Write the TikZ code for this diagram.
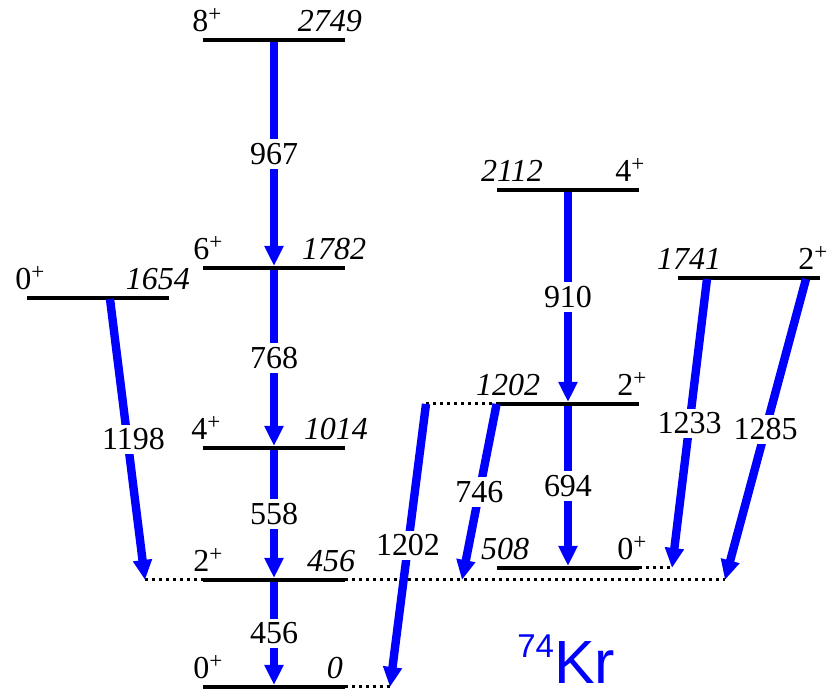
\documentclass[tikz,border=0pt]{standalone}
\usepackage{fontspec}
\setmainfont{Liberation Serif}
\newfontfamily\krfont{Liberation Sans}
\usetikzlibrary{arrows.meta, positioning}
\definecolor{krblue}{HTML}{0000FF}
\newcommand{\spinplus}{\raisebox{5pt}{\fontsize{11.5}{12}\selectfont +}}

\begin{document}
\begin{tikzpicture}[
    x=0.5pt, y=-0.5pt,
    font=\fontsize{16}{19}\selectfont,
    lvl/.style={rectangle, fill=black, inner sep=0pt, minimum height=1.6pt, minimum width=71pt},
    extline/.style={dotted, line width=1.5pt},
    spin/.style={anchor=base west, inner sep=0pt},
    energy/.style={anchor=base, inner sep=0pt, font=\fontsize{16}{19}\selectfont\itshape},
    gam/.style={-{Triangle[length=10pt, width=9pt]}, line width=4.2pt, krblue},
    elabel/.style={fill=white, text=black, inner sep=2pt, midway},
    kr/.style={anchor=base west, inner sep=0pt, text=krblue, font=\krfont\fontsize{30.5}{32}\selectfont}
]
\useasboundingbox (0,0) rectangle (827,689);

\node[lvl] (g0) at (274,687) {};
\node[lvl] (e456) at (274,580) {};
\node[lvl] (e1014) at (274,448) {};
\node[lvl] (e1782) at (274,268) {};
\node[lvl] (e2749) at (274,40) {};
\node[lvl] (e1654) at (98,298) {};
\node[lvl] (e2112) at (568,190) {};
\node[lvl] (e1202) at (568,404) {};
\node[lvl] (e508) at (568,568) {};
\node[lvl] (e1741) at (749,278) {};

\node[spin] (j0) at (193,679) {0\spinplus};
\node[energy] (n0) at (335,679) {0};
\node[spin] (j456) at (193,572) {2\spinplus};
\node[energy] (n456) at (331,572) {456};
\node[spin] (j1014) at (191,440) {4\spinplus};
\node[energy] (n1014) at (336,440) {1014};
\node[spin] (j1782) at (193,260) {6\spinplus};
\node[energy] (n1782) at (334,260) {1782};
\node[spin] (j2749) at (192,32) {8\spinplus};
\node[energy] (n2749) at (330,32) {2749};
\node[spin] (j1654) at (15,290) {0\spinplus};
\node[energy] (n1654) at (158,290) {1654};
\node[spin] (j2112) at (615,182) {4\spinplus};
\node[energy] (n2112) at (512,182) {2112};
\node[spin] (j1202) at (617,396) {2\spinplus};
\node[energy] (n1202) at (508,396) {1202};
\node[spin] (j508) at (617,560) {0\spinplus};
\node[energy] (n508) at (505,560) {508};
\node[spin] (j1741) at (798,270) {2\spinplus};
\node[energy] (n1741) at (689,270) {1741};

\coordinate (d456l) at (145,580);
\coordinate (d456r) at (725,580);
\coordinate (d0r) at (390,687);
\coordinate (d1202l) at (426,404);
\coordinate (d508r) at (672,568);
\coordinate (o1198) at (110,299);
\coordinate (o1233) at (707,279);
\coordinate (o1285) at (806,279);
\coordinate (t746) at (462,580);

\draw[extline] (d456l) -- (e456.west);
\draw[extline] (e456.east) -- (d456r);
\draw[extline] (g0.east) -- (d0r);
\draw[extline] (d1202l) -- (e1202.west);
\draw[extline] (e508.east) -- (d508r);

\draw[gam] (e2749) -- node[elabel] {967} (e1782);
\draw[gam] (e1782) -- node[elabel] {768} (e1014);
\draw[gam] (e1014) -- node[elabel] {558} (e456);
\draw[gam] (e456) -- node[elabel] {456} (g0);
\draw[gam] (e2112) -- node[elabel] {910} (e1202);
\draw[gam] (e1202) -- node[elabel] {694} (e508);
\draw[gam] (o1198) -- node[elabel, xshift=3pt] {1198} (d456l);
\draw[gam] (d1202l) -- node[elabel] {1202} (d0r);
\draw[gam] (e1202.west) -- node[elabel] {746} (t746);
\draw[gam] (o1233) -- node[elabel] {1233} (d508r);
\draw[gam] (o1285) -- node[elabel] {1285} (d456r);

\node[kr] (kr) at (517,684) {\raisebox{13pt}{\fontsize{16.5}{17}\selectfont 74}Kr};
\end{tikzpicture}
\end{document}
